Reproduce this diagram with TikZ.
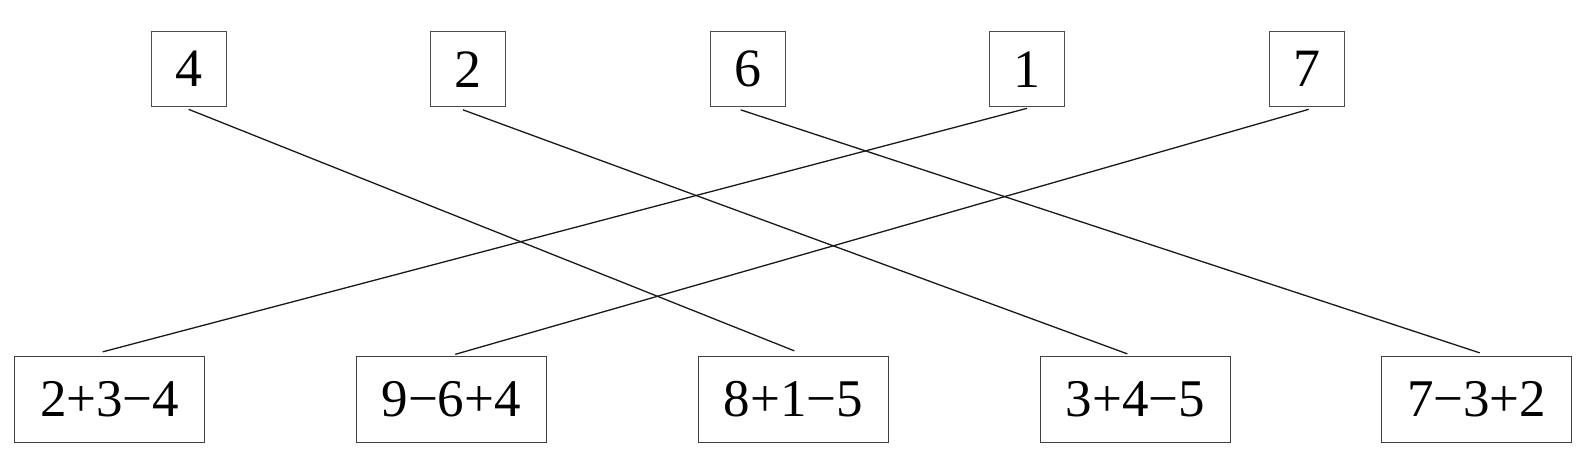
\documentclass[tikz,border=0pt]{standalone}
\usepackage{fontspec}
\setmainfont{Liberation Serif}
\newfontfamily\numfont{Liberation Serif}
\begin{document}
\begin{tikzpicture}[x=1pt,y=1pt,
  topbox/.style={draw=black!70,line width=1.3pt,minimum width=75pt,minimum height=75pt,inner sep=0pt,font=\numfont\fontsize{54}{60}\selectfont,text=black},
  botbox/.style={draw=black!75,line width=1.3pt,minimum width=190pt,minimum height=86pt,inner sep=0pt,font=\numfont\fontsize{53}{60}\selectfont,text=black},
  link/.style={draw=black!90,line width=1.3pt}]
\useasboundingbox (0,0) rectangle (1578,463);
\node[topbox] (t4) at (188.7,393.8) {4};
\node[topbox] (t2) at (468,393.8) {2};
\node[topbox] (t6) at (747.7,393.8) {6};
\node[topbox] (t1) at (1027,393.8) {1};
\node[topbox] (t7) at (1306.7,393.8) {7};
\node[botbox] (b1) at (109.7,63.5) {\raisebox{-1.5pt}{2+3−4}};
\node[botbox] (b2) at (451.2,63.5) {\raisebox{-1.5pt}{9−6+4}};
\node[botbox] (b3) at (793.3,63.5) {\raisebox{-1.5pt}{8+1−5}};
\node[botbox] (b4) at (1135.3,63.5) {\raisebox{-1.5pt}{3+4−5}};
\node[botbox] (b5) at (1476.7,63.5) {\raisebox{-1.5pt}{7−3+2}};
\draw[link] ([yshift=-2pt]t4.south) -- ([xshift=1pt,yshift=5pt]b3.north);
\draw[link] ([xshift=-5pt,yshift=-2.5pt]t2.south) -- ([xshift=-8pt,yshift=2pt]b4.north);
\draw[link] ([xshift=-7pt,yshift=-2.5pt]t6.south) -- ([xshift=3pt,yshift=3pt]b5.north);
\draw[link] ([yshift=-1pt]t1.south) -- ([xshift=-7pt,yshift=4pt]b1.north);
\draw[link] ([xshift=2pt,yshift=-2pt]t7.south) -- ([xshift=4pt,yshift=1.5pt]b2.north);
\end{tikzpicture}
\end{document}
